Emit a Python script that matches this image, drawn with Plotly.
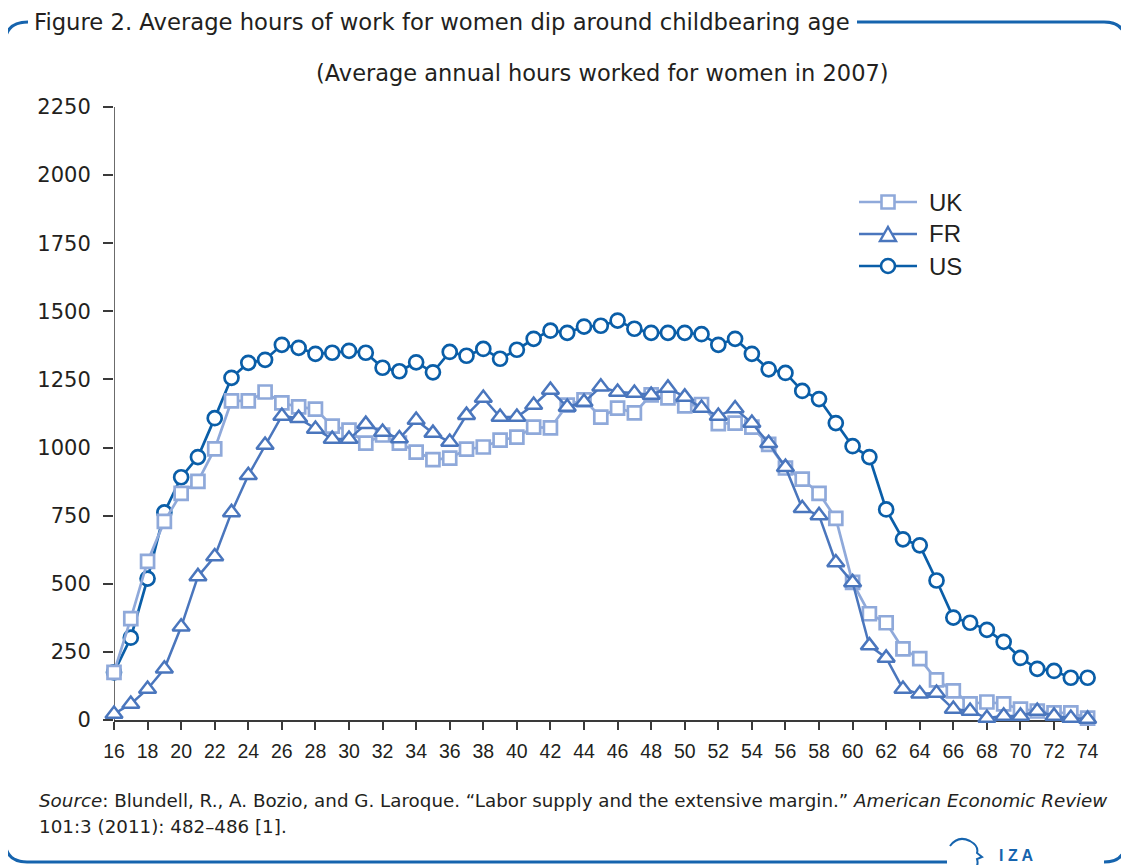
import plotly.graph_objects as go

# ---------------- data ----------------
ages = [16, 17, 18, 19, 20, 21, 22, 23, 24, 25, 26, 27, 28, 29, 30, 31, 32, 33, 34, 35,
        36, 37, 38, 39, 40, 41, 42, 43, 44, 45, 46, 47, 48, 49, 50, 51, 52, 53, 54, 55,
        56, 57, 58, 59, 60, 61, 62, 63, 64, 65, 66, 67, 68, 69, 70, 71, 72, 73, 74]

uk = [175, 372, 582, 729, 832, 876, 995, 1171, 1171, 1204,
      1164, 1149, 1141, 1079, 1064, 1016, 1046, 1016, 983, 956,
      961, 994, 1002, 1027, 1038, 1075, 1072, 1156, 1175, 1112,
      1145, 1127, 1193, 1182, 1153, 1158, 1088, 1090, 1075, 1012,
      925, 884, 832, 740, 505, 390, 357, 261, 225, 147,
      107, 59, 66, 59, 40, 33, 26, 26, 7]

fr = [22, 59, 114, 188, 342, 527, 600, 762, 898, 1009,
      1116, 1108, 1068, 1031, 1031, 1086, 1057, 1033, 1101, 1053,
      1020, 1119, 1182, 1112, 1112, 1156, 1211, 1149, 1167, 1223,
      1204, 1200, 1193, 1219, 1186, 1145, 1116, 1143, 1090, 1016,
      928, 777, 751, 578, 505, 273, 228, 114, 96, 99,
      40, 33, 7, 15, 15, 33, 15, 7, 4]

us = [175, 302, 519, 762, 891, 965, 1108, 1256, 1311, 1322,
      1377, 1366, 1344, 1348, 1355, 1348, 1293, 1280, 1313, 1276,
      1351, 1337, 1362, 1326, 1359, 1399, 1429, 1421, 1444, 1447,
      1466, 1436, 1421, 1421, 1421, 1416, 1377, 1399, 1344, 1287,
      1274, 1208, 1178, 1090, 1005, 965, 773, 663, 641, 512,
      376, 357, 331, 287, 228, 188, 180, 155, 155]

series_names = ["UK", "FR", "US"]
y_ticks = [0, 250, 500, 750, 1000, 1250, 1500, 1750, 2000, 2250]
x_ticks = [16, 18, 20, 22, 24, 26, 28, 30, 32, 34, 36, 38, 40, 42, 44, 46, 48, 50,
           52, 54, 56, 58, 60, 62, 64, 66, 68, 70, 72, 74]

title_text = "Figure 2. Average hours of work for women dip around childbearing age"
subtitle_text = "(Average annual hours worked for women in 2007)"
source_line1 = ("<i>Source</i>: Blundell, R., A. Bozio, and G. Laroque. \u201cLabor supply and the "
                "extensive margin.\u201d <i>American Economic Review</i>")
source_line2 = "101:3 (2011): 482\u2013486 [1]."

# ---------------- style ----------------
# the page body has an 8px margin, so the figure is 8px smaller than the window
W, H = 1121, 857
L, R, T, B = 106, 33, 99, 145
PW, PH = W - L - R, H - T - B
SX0, SY0 = L + 8, T + 8 + PH       # screen position of plot origin

FONT = "Liberation Sans, Arial, Helvetica, sans-serif"
FONT_W = "DejaVu Sans, Verdana, sans-serif"
C_UK = "#8fa9da"
C_FR = "#4a76bd"
C_US = "#0a5ea8"
C_FRAME = "#1664ae"
C_TEXT = "#231f20"
C_AXIS = "#3a3a3a"


def px(x):
    """screen x pixel -> paper x"""
    return (x - SX0) / PW


def py(y):
    """screen y pixel -> paper y"""
    return (SY0 - y) / PH


def path(cmds):
    out = []
    for cmd, *pts in cmds:
        coords = " ".join(f"{px(a):.5f},{py(b):.5f}" for a, b in pts)
        out.append(f"{cmd} {coords}".strip())
    return " ".join(out)


fig = go.Figure()

common = dict(mode="lines+markers", cliponaxis=False, showlegend=False)
fig.add_trace(go.Scatter(
    x=ages, y=us, name="US", **common,
    line=dict(color=C_US, width=2.7),
    marker=dict(symbol="circle", size=14, color="white", line=dict(color=C_US, width=2.7)),
))
fig.add_trace(go.Scatter(
    x=ages, y=uk, name="UK", **common,
    line=dict(color=C_UK, width=2.7),
    marker=dict(symbol="square", size=13, color="white", line=dict(color=C_UK, width=2.7)),
))
fig.add_trace(go.Scatter(
    x=ages, y=fr, name="FR", **common,
    line=dict(color=C_FR, width=2.5),
    marker=dict(symbol="triangle-up", size=15, color="white", line=dict(color=C_FR, width=2.5)),
))

shapes = []
# frame around the figure
frame_left = path([
    ("M", (947, 862)), ("L", (27, 862)), ("Q", (5, 862), (5, 840)),
    ("L", (5, 44)), ("Q", (5, 22), (28, 22)),
])
frame_right = path([
    ("M", (857, 22)), ("L", (1104, 22)), ("Q", (1126, 22), (1126, 44)),
    ("L", (1126, 840)), ("Q", (1126, 862), (1104, 862)),
])
logo = path([
    ("M", (950, 846)), ("Q", (958, 835), (970, 841)), ("Q", (979, 846), (977, 853)),
    ("L", (982, 857)), ("L", (977, 859)), ("Q", (979, 866), (974, 869)),
])
for p_ in (frame_left, frame_right):
    shapes.append(dict(type="path", xref="paper", yref="paper", path=p_,
                       line=dict(color=C_FRAME, width=3)))
shapes.append(dict(type="path", xref="paper", yref="paper", path=logo,
                   line=dict(color=C_FRAME, width=2)))
# y-axis line at x=16 (below the markers)
shapes.append(dict(type="line", xref="x", yref="y", x0=16, x1=16, y0=0, y1=2250,
                   layer="below", line=dict(color=C_AXIS, width=1.5)))

# legend (line + marker glyphs, text)
leg_rows = {"UK": 202, "FR": 234, "US": 266}
leg_col = {"UK": C_UK, "FR": C_FR, "US": C_US}
for nm in series_names:
    yc = leg_rows[nm]
    c = leg_col[nm]
    shapes.append(dict(type="line", xref="paper", yref="paper",
                       x0=px(859), x1=px(917), y0=py(yc), y1=py(yc),
                       line=dict(color=c, width=2.6)))
    if nm == "UK":
        shapes.append(dict(type="rect", xref="paper", yref="paper",
                           x0=px(881.5), x1=px(894.5), y0=py(yc - 6.5), y1=py(yc + 6.5),
                           fillcolor="white", line=dict(color=c, width=2.6)))
    elif nm == "FR":
        shapes.append(dict(type="path", xref="paper", yref="paper",
                           path=path([("M", (888, yc - 7)), ("L", (896, yc + 7)),
                                      ("L", (880, yc + 7)), ("Z",)]),
                           fillcolor="white", line=dict(color=c, width=2.4)))
    else:
        shapes.append(dict(type="circle", xref="paper", yref="paper",
                           x0=px(881), x1=px(895), y0=py(yc - 7), y1=py(yc + 7),
                           fillcolor="white", line=dict(color=c, width=2.6)))

annotations = [
    dict(text=title_text, x=px(32), y=py(22), xanchor="left", yanchor="middle",
         font=dict(family=FONT_W, size=22.7, color=C_TEXT)),
    dict(text=subtitle_text, x=px(602), y=py(73), xanchor="center", yanchor="middle",
         font=dict(family=FONT_W, size=22.5, color=C_TEXT)),
    dict(text=source_line1, x=px(37), y=py(800), xanchor="left", yanchor="middle",
         font=dict(family=FONT_W, size=18.3, color=C_TEXT)),
    dict(text=source_line2, x=px(37), y=py(826), xanchor="left", yanchor="middle",
         font=dict(family=FONT_W, size=18.3, color=C_TEXT)),
    dict(text="<b>I Z A</b>", x=px(1016), y=py(855), xanchor="center", yanchor="middle",
         font=dict(family=FONT, size=16, color=C_FRAME)),
]
for nm in series_names:
    annotations.append(dict(text=nm, x=px(927), y=py(leg_rows[nm]), xanchor="left",
                            yanchor="middle", font=dict(family=FONT, size=24, color=C_TEXT)))
for a in annotations:
    a.update(xref="paper", yref="paper", showarrow=False)

fig.update_layout(
    width=W, height=H,
    margin=dict(l=L, r=R, t=T, b=B, pad=0),
    paper_bgcolor="white", plot_bgcolor="white",
    font=dict(family=FONT, color=C_TEXT),
    showlegend=False,
    shapes=shapes,
    annotations=annotations,
    xaxis=dict(range=[16, 74.5], tickvals=x_ticks, ticktext=[str(v) for v in x_ticks],
               showgrid=False, zeroline=False, showline=True, linecolor=C_AXIS,
               linewidth=1.5, ticks="outside", ticklen=8, tickwidth=1.5, tickcolor=C_AXIS,
               layer="below traces",
               tickfont=dict(family=FONT, size=19.5, color=C_TEXT), ticklabelstandoff=5),
    yaxis=dict(range=[0, 2250], tickvals=y_ticks, showgrid=False, zeroline=False,
               showline=False, ticks="outside", ticklen=10, tickwidth=1.5, tickcolor=C_AXIS,
               tickfont=dict(family=FONT_W, size=21, color=C_TEXT), ticklabelstandoff=8),
)

fig.write_html("out.html")
